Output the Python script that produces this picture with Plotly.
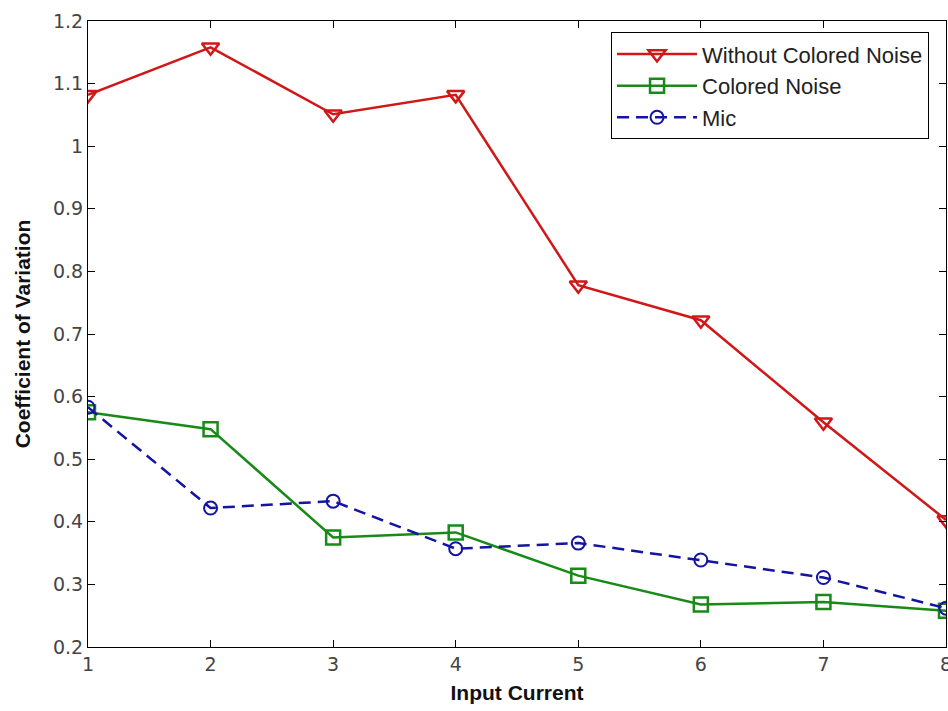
import plotly.graph_objects as go

x_vals = [1, 2, 3, 4, 5, 6, 7, 8]
without_colored = [1.082, 1.158, 1.051, 1.082, 0.778, 0.722, 0.559, 0.403]
colored = [0.575, 0.548, 0.375, 0.383, 0.314, 0.268, 0.272, 0.258]
mic = [0.583, 0.422, 0.433, 0.357, 0.366, 0.339, 0.311, 0.262]
y_ticks = [0.2, 0.3, 0.4, 0.5, 0.6, 0.7, 0.8, 0.9, 1.0, 1.1, 1.2]
y_tick_text = ["0.2", "0.3", "0.4", "0.5", "0.6", "0.7", "0.8", "0.9", "1", "1.1", "1.2"]

red = "#d01818"
green = "#178a17"
blue = "#1414a4"

fig = go.Figure()
fig.add_trace(go.Scatter(x=x_vals, y=without_colored, name="Without Colored Noise",
                         mode="lines+markers",
                         line=dict(color=red, width=2.5),
                         marker=dict(symbol="triangle-down-open", size=15, color=red,
                                     line=dict(width=2.5, color=red))))
fig.add_trace(go.Scatter(x=x_vals, y=colored, name="Colored Noise",
                         mode="lines+markers",
                         line=dict(color=green, width=2.5),
                         marker=dict(symbol="square-open", size=14, color=green,
                                     line=dict(width=2.5, color=green))))
fig.add_trace(go.Scatter(x=x_vals, y=mic, name="Mic",
                         mode="lines+markers",
                         line=dict(color=blue, width=2.5, dash="12px,7px"),
                         marker=dict(symbol="circle-open", size=13, color=blue,
                                     line=dict(width=2, color=blue))))

tick_font = dict(family="DejaVu Sans, sans-serif", size=19, color="#444444")
title_font = dict(family="Liberation Sans, Arial, sans-serif", size=21, color="#111111")

fig.add_annotation(x=8, y=0, xref="x", yref="paper", text="8", showarrow=False,
                   xanchor="center", yanchor="top", yshift=-4, font=tick_font)

fig.update_layout(
    width=948, height=711,
    margin=dict(l=88, r=2, t=21, b=64),
    paper_bgcolor="white", plot_bgcolor="white",
    font=dict(family="Liberation Sans, Arial, sans-serif", size=15, color="#222222"),
    xaxis=dict(range=[1, 8], tickvals=x_vals[:-1], ticks="inside", ticklen=7,
               tickcolor="black", showline=True, linecolor="black", linewidth=1,
               mirror="ticks", showgrid=False, zeroline=False, tickfont=tick_font,
               title=dict(text="<b>Input Current</b>", font=title_font, standoff=11)),
    yaxis=dict(range=[0.2, 1.2], tickvals=y_ticks, ticktext=y_tick_text,
               ticks="inside", ticklen=7,
               tickcolor="black", showline=True, linecolor="black", linewidth=1,
               mirror="ticks", showgrid=False, zeroline=False, tickfont=tick_font,
               title=dict(text="<b>Coefficient of Variation</b>", font=title_font,
                          standoff=16)),
    legend=dict(x=0.6096, y=0.982, xanchor="left", yanchor="top",
                bgcolor="white", bordercolor="black", borderwidth=1,
                font=dict(family="Liberation Sans, Arial, sans-serif", size=22, color="#222222"),
                itemwidth=80),
)

fig.write_html("out.html")
